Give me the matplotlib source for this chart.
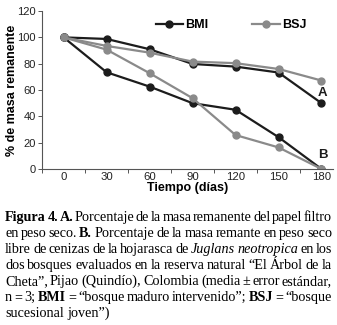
import matplotlib
matplotlib.use("Agg")
import matplotlib.pyplot as plt

# ---------------- data ----------------
days = [0, 30, 60, 90, 120, 150, 180]
bmi_a = [100, 98.8, 91, 79.8, 77.8, 73.3, 50]
bsj_a = [100, 93.5, 88.4, 81.6, 80.4, 76, 67.2]
bmi_b = [100, 73.5, 62.6, 50, 45, 24.2, 0]
bsj_b = [100, 90.7, 72.8, 53.8, 25.8, 16.4, 0]

caption = [
    [("Figura 4. A.", "b"), (" Porcentaje de la masa remanente del papel filtro", "r")],
    [("en peso seco. ", "r"), ("B.", "b"), (" Porcentaje de la masa remante en peso seco", "r")],
    [("libre de cenizas de la hojarasca de ", "r"), ("Juglans neotropica", "i"), (" en los", "r")],
    [("dos bosques evaluados en la reserva natural \u201cEl \u00c1rbol de la", "r")],
    [("Cheta\u201d, Pijao (Quind\u00edo), Colombia (media \u00b1 error est\u00e1ndar,", "r")],
    [("n = 3; ", "r"), ("BMI", "b"), (" = \u201cbosque maduro intervenido\u201d; ", "r"), ("BSJ", "b"),
     (" = \u201cbosque", "r")],
    [("sucesional joven\u201d)", "r")],
]
# --------------------------------------

plt.rcParams['font.family'] = ['Liberation Sans', 'DejaVu Sans']
fig = plt.figure(figsize=(3.37, 3.25), dpi=100)
ax = fig.add_axes([0.125, 0.48, 0.863, 0.486])

dark = '#1c1c1c'
grey = '#8a8a8a'
kw = dict(lw=1.6, marker='o', ms=5)
ax.plot(days, bmi_a, color=dark, label='BMI', **kw)
ax.plot(days, bsj_a, color=grey, label='BSJ', **kw)
ax.plot(days, bmi_b, color=dark, **kw)
ax.plot(days, bsj_b, color=grey, **kw)

ax.text(181, 58, 'A', ha='center', va='center', fontsize=9.5, fontweight='bold', color=dark)
ax.text(181, 11, 'B', ha='center', va='center', fontsize=9.5, fontweight='bold', color=dark)

ax.set_xlim(-15, 188)
ax.set_ylim(0, 120)
ax.set_xticks(days)
ax.set_xticks([-15, 15, 45, 75, 105, 135, 165], minor=True)
ax.tick_params(axis='x', which='major', length=0, labelsize=8.2, pad=2.5, labelcolor='#222222')
ax.tick_params(axis='x', which='minor', length=3, width=0.7, color='#555555')
ax.set_yticks(range(0, 121, 20))
ax.tick_params(axis='y', length=3, width=0.7, labelsize=8, pad=1.5, color='#555555',
               labelcolor='#222222')
for s in ['top', 'right']:
    ax.spines[s].set_visible(False)
for s in ['left', 'bottom']:
    ax.spines[s].set_color('#555555')
    ax.spines[s].set_linewidth(0.8)

ax.set_xlabel('Tiempo (d\u00edas)', fontsize=9, fontweight='bold', labelpad=0)
ax.set_ylabel('% de masa remanente', fontsize=9, fontweight='bold')
ax.yaxis.set_label_coords(-0.083, 0.5)
ax.legend(loc='upper center', bbox_to_anchor=(0.65, 1.02), ncol=2, frameon=False,
          prop={'weight': 'bold', 'size': 9}, handlelength=2.2,
          columnspacing=3.5, handletextpad=0.2)

# caption, justified, with mixed bold/italic words
fig.canvas.draw()
renderer = fig.canvas.get_renderer()
styles = {'r': dict(), 'b': dict(fontweight='bold'), 'i': dict(fontstyle='italic')}
fs = 10.2
x0, x1 = 5, 332
W, H = fig.bbox.width, fig.bbox.height


def width_of(s, **kw):
    t = fig.text(0, 0, s, fontsize=fs, family='Liberation Serif', **kw)
    w = t.get_window_extent(renderer).width
    t.remove()
    return w


sp = width_of('a a') - 2 * width_of('a')
y = 221
for n, line in enumerate(caption):
    # split into word groups; pieces without a space between them stay together
    groups = []
    join = False
    for txt, st in line:
        parts = txt.split(' ')
        for k, p in enumerate(parts):
            if p != '':
                if k == 0 and join and groups:
                    groups[-1].append((p, st))
                else:
                    groups.append([(p, st)])
        join = not txt.endswith(' ')
    widths = [sum(width_of(p, **styles[st]) for p, st in g) for g in groups]
    if n < len(caption) - 1 and len(groups) > 1:
        gap = (x1 - x0 - sum(widths)) / (len(groups) - 1)
    else:
        gap = sp
    x = x0
    for g in groups:
        for p, st in g:
            fig.text(x / W, 1 - y / H, p, fontsize=fs, family='Liberation Serif',
                     va='baseline', **styles[st])
            x += width_of(p, **styles[st])
        x += gap
    y += 16

fig.savefig('out.png', dpi=100)
